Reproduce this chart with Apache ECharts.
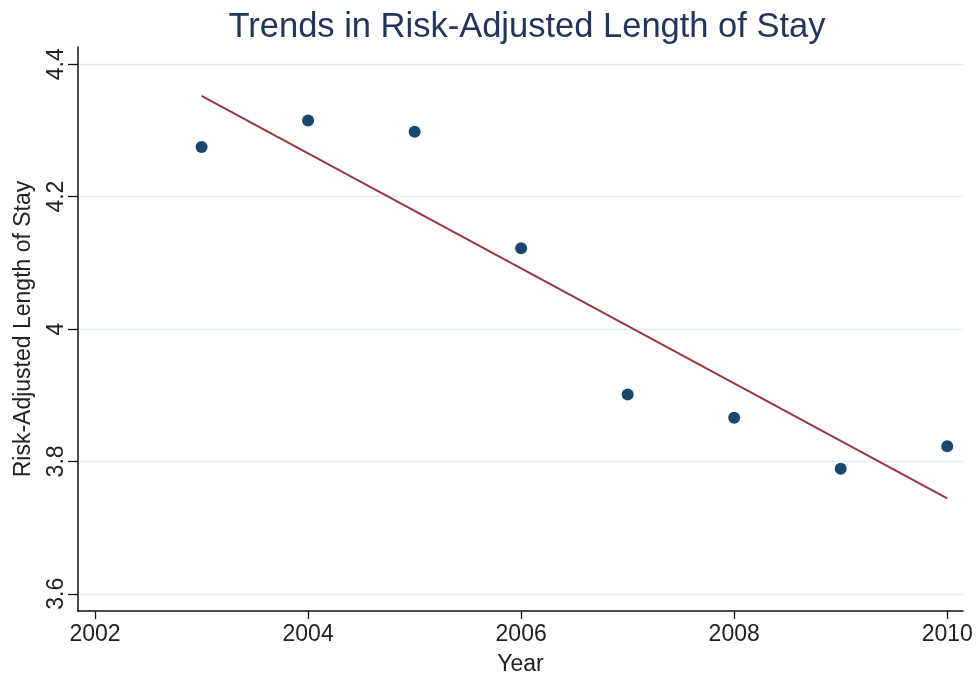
<!DOCTYPE html>
<html>
<head>
<meta charset="utf-8">
<script src="https://cdn.jsdelivr.net/npm/echarts@6/dist/echarts.min.js"></script>
<style>html,body{margin:0;padding:0;background:#fff}#c{width:977px;height:681px}</style>
</head>
<body>
<div id="c"></div>
<script>
const years = [2003, 2004, 2005, 2006, 2007, 2008, 2009, 2010];
const losValues = [4.275, 4.315, 4.298, 4.122, 3.901, 3.866, 3.789, 3.823];
const fitYears = [2003, 2010];
const fitValues = [4.352, 3.744];
const xTicks = [2002, 2004, 2006, 2008, 2010];
const yTicks = [3.6, 3.8, 4.0, 4.2, 4.4];

const chart = echarts.init(document.getElementById('c'), null, {renderer: 'canvas'});
const font = 'Liberation Sans, Arial, sans-serif';
chart.setOption({
  animation: false,
  backgroundColor: '#ffffff',
  title: {
    text: 'Trends in Risk-Adjusted Length of Stay',
    left: 522, top: 5, textAlign: 'center',
    textStyle: {fontFamily: font, fontWeight: 'normal', fontSize: 34.5, color: '#25345a'}
  },
  grid: {left: 78, top: 47, right: 14, bottom: 69, containLabel: false},
  xAxis: {
    type: 'value', min: 2001.84, max: 2010.148,
    name: 'Year', nameLocation: 'middle', nameGap: 42,
    nameTextStyle: {fontFamily: font, fontSize: 23, color: '#222'},
    axisLine: {show: true, onZero: false, lineStyle: {color: '#111', width: 1.5}},
    axisTick: {show: true, length: 8, customValues: xTicks, lineStyle: {color: '#111', width: 1.3}},
    axisLabel: {customValues: xTicks, margin: 12, fontFamily: font, fontSize: 23, color: '#222', formatter: v => String(v)},
    splitLine: {show: false}
  },
  yAxis: {
    type: 'value', min: 3.574, max: 4.426,
    name: 'Risk-Adjusted Length of Stay', nameLocation: 'middle', nameGap: 43, nameRotate: 90,
    nameTextStyle: {fontFamily: font, fontSize: 23, color: '#222'},
    axisLine: {show: true, onZero: false, lineStyle: {color: '#111', width: 1.5}},
    axisTick: {show: true, length: 10, customValues: yTicks, lineStyle: {color: '#111', width: 1.3}},
    axisLabel: {customValues: yTicks, rotate: 90, margin: 10, fontFamily: font, fontSize: 23, color: '#222', align: 'center', verticalAlign: 'bottom'},
    splitLine: {show: true, lineStyle: {color: '#e3edef', width: 1.3}}
  },
  series: [
    {
      type: 'scatter', symbol: 'circle', symbolSize: 12,
      itemStyle: {color: '#1a476f', opacity: 1},
      data: years.map((y, i) => [y, losValues[i]]),
      z: 3
    },
    {
      type: 'line', symbol: 'none', showSymbol: false,
      lineStyle: {color: '#983840', width: 2},
      data: fitYears.map((y, i) => [y, fitValues[i]]),
      z: 2
    }
  ]
});
</script>
</body>
</html>
